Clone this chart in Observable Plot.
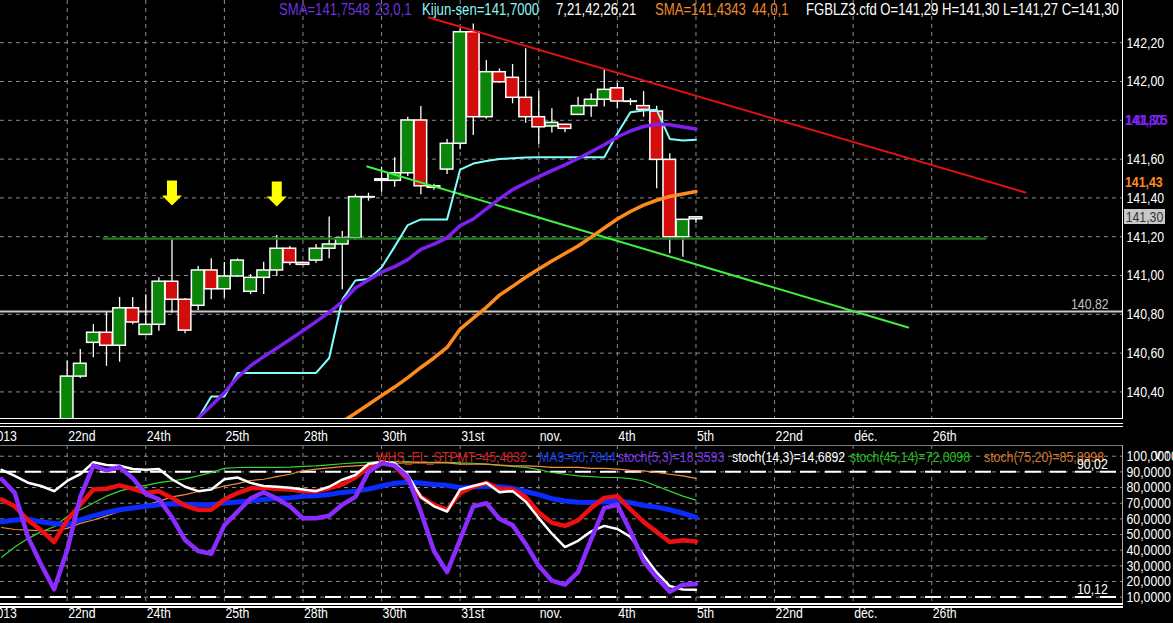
<!DOCTYPE html>
<html><head><meta charset="utf-8">
<script src="https://cdn.jsdelivr.net/npm/d3@7"></script>
<script src="https://cdn.jsdelivr.net/npm/@observablehq/plot@0.6"></script>
<style>
body{margin:0;background:#000;}
#wrap{position:relative;width:1173px;height:623px;overflow:hidden;background:#000;font-family:'Liberation Sans',Arial,sans-serif;}
.t{position:absolute;white-space:nowrap;line-height:1;transform:scaleX(0.82);transform-origin:0 0;}
.ln{position:absolute;}
</style></head><body>
<div id="wrap"></div>
<script>
const FONT = "'Liberation Sans',Arial,sans-serif";
const NARROW = 0.82;

// ---- price panel data (4h candles, index 0..48) ----
const opens  = [140.20,140.479,140.653,140.705,140.638,140.831,140.694,140.746,140.968,140.875,
                140.844,141.026,140.929,140.995,140.916,140.988,141.026,141.138,141.065,141.077,
                141.138,141.160,141.192,141.404,141.496,141.488,141.527,141.799,141.460,141.546,
                141.679,142.254,141.816,142.048,142.019,141.916,141.816,141.768,141.777,141.828,
                141.873,141.906,141.965,141.897,141.873,141.845,141.596,141.197,141.290];
const highs  = [140.558,140.619,140.747,140.811,140.887,140.887,140.901,140.988,141.189,140.880,
                141.046,141.086,141.067,141.086,141.005,141.069,141.206,141.149,141.070,141.160,
                141.301,141.227,141.416,141.424,141.558,141.607,141.816,141.871,141.470,141.701,
                142.272,142.297,142.108,142.065,142.088,142.169,141.950,141.859,141.780,141.919,
                141.937,142.060,141.991,141.911,141.948,141.873,141.627,141.290,141.300];
const lows   = [140.15,140.469,140.576,140.532,140.553,140.746,140.690,140.713,140.806,140.700,
                140.820,140.875,140.883,140.990,140.902,140.902,140.995,141.052,141.050,141.063,
                141.086,140.926,141.180,141.383,141.429,141.455,141.510,141.416,141.440,141.521,
                141.648,141.722,141.806,141.990,141.885,141.785,141.675,141.734,141.736,141.826,
                141.816,141.868,141.859,141.876,141.816,141.447,141.112,141.094,141.270];
const closes = [140.479,140.545,140.705,140.638,140.831,140.758,140.746,140.968,140.875,140.716,
                141.026,140.929,140.995,141.077,140.988,141.026,141.138,141.065,141.055,141.138,
                141.160,141.192,141.404,141.402,141.488,141.527,141.799,141.460,141.452,141.679,
                142.254,141.816,142.048,141.996,141.916,141.816,141.764,141.787,141.756,141.873,
                141.906,141.957,141.897,141.895,141.854,141.596,141.197,141.287,141.300];

const sma23From = 9;
const sma23 = [140.20,140.266,140.329,140.396,140.475,140.535,140.582,140.625,140.670,140.715,
               140.762,140.810,140.864,140.936,140.977,141.018,141.046,141.082,141.135,141.162,
               141.194,141.257,141.291,141.343,141.395,141.443,141.477,141.510,141.541,141.570,
               141.603,141.638,141.674,141.714,141.745,141.768,141.780,141.777,141.766,141.755];
const kijunFrom = 9;
const kijun = [140.15,140.263,140.376,140.376,140.498,140.498,140.498,140.498,140.498,140.498,
               140.498,140.575,140.876,140.974,140.982,141.041,141.149,141.260,141.289,141.289,
               141.289,141.546,141.577,141.590,141.601,141.604,141.608,141.610,141.610,141.610,
               141.610,141.610,141.610,141.732,141.842,141.851,141.854,141.704,141.696,141.700];
const sma44From = 21;
const sma44 = [140.247,140.290,140.335,140.381,140.425,140.474,140.526,140.575,140.629,140.724,
               140.780,140.836,140.899,140.944,140.991,141.034,141.075,141.113,141.152,141.198,
               141.245,141.291,141.330,141.363,141.388,141.407,141.420,141.433];

const resistanceTrend = [{i:27.6, p:142.33}, {i:73.15, p:141.428}];
const supportTrend    = [{i:22.9, p:141.562}, {i:64.2, p:140.732}];
const supportLevel    = [{i:2.77, p:141.19}, {i:70.1, p:141.19}];
const greyLevel = [140.815];
const arrows = [{i:8, p:141.425}, {i:16, p:141.42}];

const priceTicks = [140.4,140.6,140.8,141.0,141.2,141.4,141.6,141.8,142.0,142.2];
const xLabelIdx = [-6,0,6,12,18,24,30,36,42,48,54,60,66];
const xLabels = ["2013","22nd","24th","25th","28th","30th","31st","nov.","4th","5th","22nd","déc.","26th"];

// header / legend values
const smaFastLast = 141.7548, kijunLast = 141.7000, smaSlowLast = 141.4343;
const oscLegend = [
  ["WHS_EL_STPMT", 45.4832, "#d82020"],
  ["MA9", 60.7844, "#1f3fe8"],
  ["stoch(5,3)", 18.3593, "#7a3ae6"],
  ["stoch(14,3)", 14.6892, "#ffffff"],
  ["stoch(45,14)", 72.0098, "#22c022"],
  ["stoch(75,20)", 85.8998, "#d9782a"]
];

// ---- oscillator panel data (index -5..48) ----
const oscFrom = -5;
const stpmt = [72.3,68,59.3,52.8,45.2, 59.3,69,78.8,79.2,81.4,79.2,76.6,77.7,73.4,68.5,
               65.8,65.8,72.3,76.5,79.5,79.9,79.3,78.8,77.7,77.7, 79.5,82,86.4,93,96,94,85,74,69,65.8,
               76.6,80.5,83,79,78.8,74,64,57.5,55.5,59, 67,73.4,74.5,66,58.2,51.7,45.2,46.3,45.5];
const ma9   = [58.2,59.3,59.7,58.2,57.1, 56.1,59.3,61.9,64.1,65.8,66.9,68,69,69.7,69.3,
               69,69,70.1,70.8,71.6,72.3,73,73.4,74.5,74.8, 75.6,76.9,77.7,79,81,82.8,83.4,82.9,82,81.4,
               79.9,80.3,81,80.5,79.5,77.5,75.5,72.9,71.4,70.6, 70.4,71,71.2,70.4,68.5,67.5,65.8,63.6,61];
const stoch53 = [85.3,76.6,48.5,31,15, 40,74,94,91,93,86,76,72.5,61,46.5,
               39.5,37.7,56,64.5,73,77,73,68,60.4,60.4, 62,69,74,90,95.5,94,86.7,64.4,39.5,26,
               47,68,70,60,56,44,30,20.5,18,26, 47,67,69,52,33,22.5,13.4,18,18.4];
const stoch143 = [91.3,87.4,83.1,81,77.7, 84.2,88.5,96.1,94.4,93.9,91.8,91.3,91.8,85.3,80.5,
               77.7,78.8,85.3,86.4,83,81,80.5,79.9,78.8,77.7, 80.5,85,88,95,96.5,95.5,88,74,68,64.7,
               78.8,81,83,77,77.7,71,60.5,50.5,42,46, 52,55.5,53.5,48.5,37,25.8,17.1,14.9,14.7];
const stoch4514 = [35.5,42,47.4,51.7,55, 61.5,65.8,70.1,74.5,77.7,79.9,81.4,83.1,84.2,85.5,
               87.5,89.6,92.2,92.8,92.9,92.9,92.9,93,93.5,93.8, 94.5,95.2,95.7,96.1,96.5,96.5,96.5,96.1,96.1,96.1,
               95.7,95.5,95,94.2,93.5,92.9,91.5,89.6,88.5,87.4, 87,86.4,86.4,85.7,84.2,81,77.7,74.5,72];
const stoch7520 = [54.5,53.2,52.8,52.4,52.4, 53.9,57.1,59.3,61.9,64.7,66.9,69,71.2,74,75.5,
               77.5,78.8,81,82.5,84.5,85.3,87,88.5,90.7,91.8, 92.6,93.3,93.9,94.3,95,95.5,95.7,95.7,95.7,95.7,
               95,95,95,94.4,93.9,93.9,93.5,92.9,92.9,92.9, 92.2,92.2,91.8,91,90.7,89.6,88.5,87.4,85.9];
const oscTicks = [10,20,30,40,50,60,70,80,90,100];
const oscBands = [90.02, 10.12];

// ---- helpers ----
const candles = opens.map((o, i) => ({i, open: o, high: highs[i], low: lows[i], close: closes[i]}));
const series = (arr, from) => arr.map((v, k) => ({i: from + k, v}));
const labels = xLabelIdx.map((i, k) => ({i, label: xLabels[k]}));
const gridIdx = xLabelIdx.filter(i => i >= 0);
const fmt2 = d => d.toFixed(2).replace(".", ",");
const fmt4 = d => d.toFixed(4).replace(".", ",");
const GRID = {stroke: "#8c8c8c", strokeOpacity: 1, strokeDasharray: "4,4", strokeWidth: 1};
const XDOM = [-5.09, 80.56];

const arrowSymbol = {draw(ctx, size) {
  const s = Math.sqrt(size / Math.PI) / 10;
  ctx.moveTo(-5*s, -12.5*s); ctx.lineTo(5*s, -12.5*s); ctx.lineTo(5*s, 2.5*s);
  ctx.lineTo(10*s, 2.5*s); ctx.lineTo(0, 12.5*s); ctx.lineTo(-10*s, 2.5*s);
  ctx.lineTo(-5*s, 2.5*s); ctx.closePath();
}};

// compress SVG texts horizontally (narrow font look) once they are in the document
function condense(svg, s) {
  svg.querySelectorAll("text").forEach(t => {
    const L = t.getComputedTextLength();
    if (L > 0) {
      t.setAttribute("textLength", (L * s).toFixed(2));
      t.setAttribute("lengthAdjust", "spacingAndGlyphs");
    }
  });
}

const wrap = document.getElementById("wrap");

const p1 = Plot.plot({
  width: 1173, height: 445,
  marginLeft: 0, marginRight: 51, marginTop: 0, marginBottom: 27,
  x: {type: "linear", domain: XDOM, axis: null},
  y: {domain: [140.263, 142.4175]},
  color: {type: "identity"},
  style: {background: "transparent", color: "#fff", fontFamily: FONT, fontSize: "15px"},
  marks: [
    Plot.gridY(priceTicks, GRID),
    Plot.gridX(gridIdx, GRID),
    Plot.ruleY(greyLevel, {stroke: "#c8c8c8", strokeWidth: 2}),
    Plot.ruleX(candles, {x: "i", y1: "low", y2: "high", stroke: "#fff", strokeWidth: 1.3, clip: true}),
    Plot.rect(candles, {x1: d => d.i - 0.48, x2: d => d.i + 0.48, y1: "open", y2: "close",
      fill: d => d.close >= d.open ? "#0a850a" : "#d30c0c", stroke: "#fff", strokeWidth: 1.5, clip: true}),
    Plot.line(supportLevel, {x: "i", y: "p", stroke: "#1f7a1f", strokeWidth: 2.2}),
    Plot.line(supportTrend, {x: "i", y: "p", stroke: "#3cf03c", strokeWidth: 2}),
    Plot.line(resistanceTrend, {x: "i", y: "p", stroke: "#e31212", strokeWidth: 2, clip: true}),
    Plot.line(series(kijun, kijunFrom), {x: "i", y: "v", stroke: "#80ffff", strokeWidth: 2, clip: true}),
    Plot.line(series(sma23, sma23From), {x: "i", y: "v", stroke: "#7d20f0", strokeWidth: 3.5, clip: true}),
    Plot.line(series(sma44, sma44From), {x: "i", y: "v", stroke: "#ff8a1e", strokeWidth: 3.5, clip: true}),
    Plot.dot(arrows, {x: "i", y: "p", symbol: arrowSymbol, r: 10, fill: "#ffff00", stroke: "none"}),
    Plot.axisY(priceTicks, {anchor: "right", tickSize: 0, tickPadding: 4, tickFormat: fmt2, fill: "#fff", fontSize: 15}),
    Plot.text(labels, {x: "i", text: "label", frameAnchor: "bottom", lineAnchor: "top", textAnchor: "start",
      dx: 1, dy: 12, fill: "#fff", fontSize: 15})
  ]
});
p1.style.position = "absolute"; p1.style.left = "0px"; p1.style.top = "0px";
wrap.appendChild(p1);
condense(p1, NARROW);

const oscLines = [
  [stoch4514, "#33d633", 1.2],
  [stoch7520, "#f0903a", 1.2],
  [ma9, "#0a2cff", 5],
  [stpmt, "#ee1010", 4.5],
  [stoch143, "#ffffff", 2.5],
  [stoch53, "#8a2cff", 4.5]
];

const p2 = Plot.plot({
  width: 1173, height: 178,
  marginLeft: 0, marginRight: 51, marginTop: 0, marginBottom: 20,
  x: {type: "linear", domain: XDOM, axis: null},
  y: {domain: [5.95, 106.85]},
  style: {background: "transparent", color: "#fff", fontFamily: FONT, fontSize: "15px"},
  marks: [
    Plot.gridY(oscTicks, GRID),
    Plot.gridX(gridIdx, GRID),
    Plot.ruleY(oscBands, {stroke: "#fff", strokeWidth: 2, strokeDasharray: "16,9"}),
    ...oscLines.map(([arr, c, w]) => Plot.line(series(arr, oscFrom), {x: "i", y: "v", stroke: c, strokeWidth: w, clip: true})),
    Plot.axisY(oscTicks, {anchor: "right", tickSize: 0, tickPadding: 4, tickFormat: fmt4, fill: "#fff", fontSize: 15}),
    Plot.text(labels, {x: "i", text: "label", frameAnchor: "bottom", lineAnchor: "top", textAnchor: "start",
      dx: 1, dy: 4, fill: "#fff", fontSize: 15})
  ]
});
p2.style.position = "absolute"; p2.style.left = "0px"; p2.style.top = "445px";
wrap.appendChild(p2);
condense(p2, NARROW);

// ---- borders ----
function line(l, t, w, h, c) {
  const d = document.createElement("div"); d.className = "ln";
  Object.assign(d.style, {left: l+"px", top: t+"px", width: w+"px", height: h+"px", background: c});
  wrap.appendChild(d);
}
line(1122, 0, 1, 418, "#fff");
line(0, 418, 1123, 1, "#fff");
line(0, 422.5, 1123, 1.5, "#fff");
line(0, 425.5, 1123, 1.5, "#fff");
line(0, 445, 1123, 1, "#7a7a7a");
line(1122, 445, 1, 158, "#a8a8a8");
line(0, 603, 1123, 1.5, "#fff");
line(0, 606, 1123, 1.5, "#fff");

// ---- text overlays ----
function txt(s, l, t, c, size, extra) {
  const d = document.createElement("div"); d.className = "t";
  d.textContent = s;
  Object.assign(d.style, {left: l+"px", top: t+"px", color: c, fontSize: size+"px"}, extra || {});
  wrap.appendChild(d);
  return d;
}
const y1 = v => p1.scale("y").apply(v);
const y2 = v => 445 + p2.scale("y").apply(v);

// header
txt("SMA=" + fmt4(smaFastLast), 279, 2, "#6b33dd", 16);
txt("23,0,1", 375, 2, "#6b33dd", 16);
txt("Kijun-sen=" + fmt4(kijunLast), 422, 2, "#8ff5f5", 16);
txt("7,21,42,26,21", 556, 2, "#ffffff", 16);
txt("SMA=" + fmt4(smaSlowLast), 655, 2, "#f08a2a", 16);
txt("44,0,1", 751.5, 2, "#f08a2a", 16);
txt("FGBLZ3.cfd O=" + fmt2(opens[48]) + " H=" + fmt2(highs[48]) + " L=" + fmt2(lows[48]) + " C=" + fmt2(closes[48]), 806, 2, "#ffffff", 16);

// price-axis markers
txt("141,80", 1125, y1(141.8) - 8, "#7d20f0", 15, {fontWeight: "bold", background: "#000", padding: "0 6px 0 0"});
txt(fmt2(smaFastLast), 1125, y1(141.8) - 8, "#7d20f0", 15, {fontWeight: "bold", transform: "scaleX(0.93)"});
txt(fmt2(smaSlowLast), 1125, y1(smaSlowLast) - 17, "#ff8a1e", 15, {fontWeight: "bold"});
txt(fmt2(closes[48]), 1124, y1(closes[48]) - 8, "#333", 15, {background: "#c8c8c8", padding: "0 2px", height: "15px"});
txt(fmt2(140.82), 1071, y1(greyLevel[0]) - 15, "#c0c0c0", 15);

// oscillator legend
const legendX = [375.5, 539, 617.5, 732, 850, 983.5];
oscLegend.forEach(([name, v, c], k) => txt(name + "=" + fmt4(v), legendX[k], 449, c, 15));
txt(fmt2(oscBands[0]), 1077, y2(oscBands[0]) - 15, "#fff", 15);
txt(fmt2(oscBands[1]), 1077, y2(oscBands[1]) - 15, "#fff", 15);
</script></body></html>
